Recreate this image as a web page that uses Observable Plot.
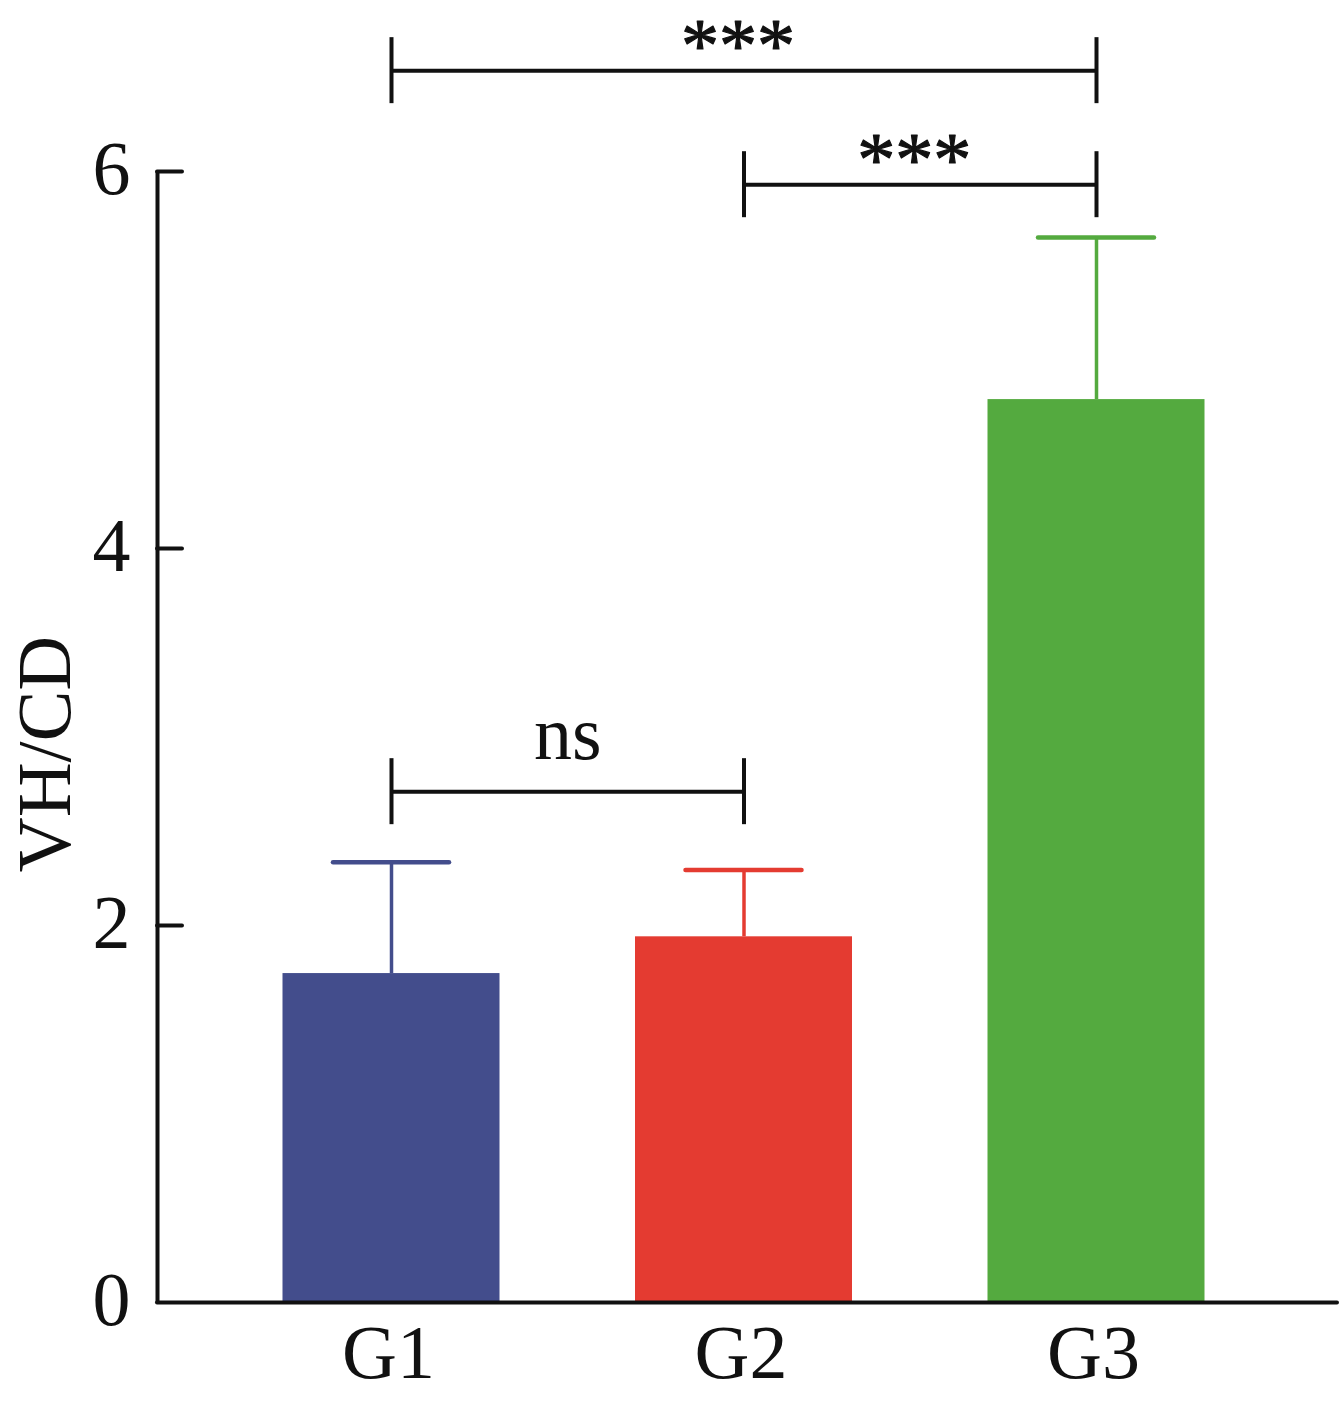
<!DOCTYPE html>
<html>
<head>
<meta charset="utf-8">
<script src="https://cdn.jsdelivr.net/npm/d3@7"></script>
<script src="https://cdn.jsdelivr.net/npm/@observablehq/plot@0.6"></script>
<style>
  html, body { margin: 0; padding: 0; background: #fff; }
  #chart svg { display: block; }
</style>
</head>
<body>
<div id="chart"></div>
<script>
// ---- data ----
const groups = ["G1", "G2", "G3"];
const means = [1.745, 1.94, 4.79];
const errors = [0.59, 0.355, 0.86];
const colors = ["#434D8C", "#E43B31", "#54AA3F"];
const yTicks = [0, 2, 4, 6];
const yLabel = "VH/CD";
// significance comparisons
const compFrom = ["G1", "G2", "G1"];
const compTo = ["G2", "G3", "G3"];
const compLevel = [2.71, 5.93, 6.535];
const compLabel = ["ns", "***", "***"];

// ---- build tables ----
const pos = g => groups.indexOf(g) + 1;
const bars = groups.map((g, i) => ({g, x: i + 1, mean: means[i], top: means[i] + errors[i], color: colors[i]}));
const comps = compFrom.map((a, i) => ({x1: pos(a), x2: pos(compTo[i]), y: compLevel[i], label: compLabel[i]}));

const W = 1339, H = 1403;
const mL = 157, mR = 0, mT = 171, mB = 101;
const step = 352.5;               // px per group
const xMin = 1 - (391 - mL) / step;
const xMax = xMin + (W - mL - mR) / step;
const barHalf = 108.5 / step;
const capHalf = 58 / step;
const yPx = (H - mT - mB) / 6;    // px per unit
const tickH = 33 / yPx;
const yTickLen = 25 / step;

const font = "'Liberation Serif', 'Times New Roman', serif";

const chart = Plot.plot({
  width: W,
  height: H,
  marginLeft: mL,
  marginRight: mR,
  marginTop: mT,
  marginBottom: mB,
  style: {fontFamily: font, background: "#fff", color: "#111"},
  x: {domain: [xMin, xMax], axis: null},
  y: {domain: [0, 6], axis: null},
  marks: [
    Plot.rectY(bars, {x1: d => d.x - barHalf, x2: d => d.x + barHalf, y1: 0, y2: "mean", fill: "color"}),
    // error bars
    Plot.ruleX(bars, {x: "x", y1: "mean", y2: "top", stroke: "color", strokeWidth: 3.5}),
    Plot.ruleY(bars, {y: "top", x1: d => d.x - capHalf, x2: d => d.x + capHalf, stroke: "color", strokeWidth: 4.5, strokeLinecap: "round"}),
    // axes
    Plot.ruleX([xMin], {y1: 0, y2: 6, stroke: "#111", strokeWidth: 4}),
    Plot.ruleY([0], {x1: xMin, x2: xMax - 2 / step, stroke: "#111", strokeWidth: 4, strokeLinecap: "round"}),
    Plot.ruleY(yTicks.filter(t => t > 0), {y: d => d, x1: xMin, x2: xMin + yTickLen, stroke: "#111", strokeWidth: 4, strokeLinecap: "round"}),
    Plot.text(yTicks, {x: xMin, y: d => d, text: d => String(d), textAnchor: "end", dx: -27, dy: -2, fontSize: 76, fill: "#111"}),
    Plot.text(bars, {x: "x", y: 0, text: "g", lineAnchor: "top", dy: 22, dx: -3, fontSize: 76, fill: "#111"}),
    Plot.text([yLabel], {frameAnchor: "left", textAnchor: "middle", rotate: -90, dx: -112, dy: 17, fontSize: 76, fill: "#111"}),
    // significance brackets
    Plot.ruleY(comps, {y: "y", x1: "x1", x2: "x2", stroke: "#111", strokeWidth: 4}),
    Plot.ruleX(comps, {x: "x1", y1: d => d.y - tickH, y2: d => d.y + tickH, stroke: "#111", strokeWidth: 4}),
    Plot.ruleX(comps, {x: "x2", y1: d => d.y - tickH, y2: d => d.y + tickH, stroke: "#111", strokeWidth: 4}),
    Plot.text(comps.filter(d => d.label === "ns"), {x: d => (d.x1 + d.x2) / 2, y: "y", text: "label", lineAnchor: "bottom", dy: -33, fontSize: 76, fill: "#111"}),
    Plot.text(comps.filter(d => d.label !== "ns"), {x: d => (d.x1 + d.x2) / 2, y: "y", text: "label", lineAnchor: "bottom", dx: -6, dy: 0, fontSize: 76, fill: "#111", stroke: "#111", strokeWidth: 1.2, style: {letterSpacing: "-0.5px"}})
  ]
});
document.getElementById("chart").appendChild(chart);
</script>
</body>
</html>
